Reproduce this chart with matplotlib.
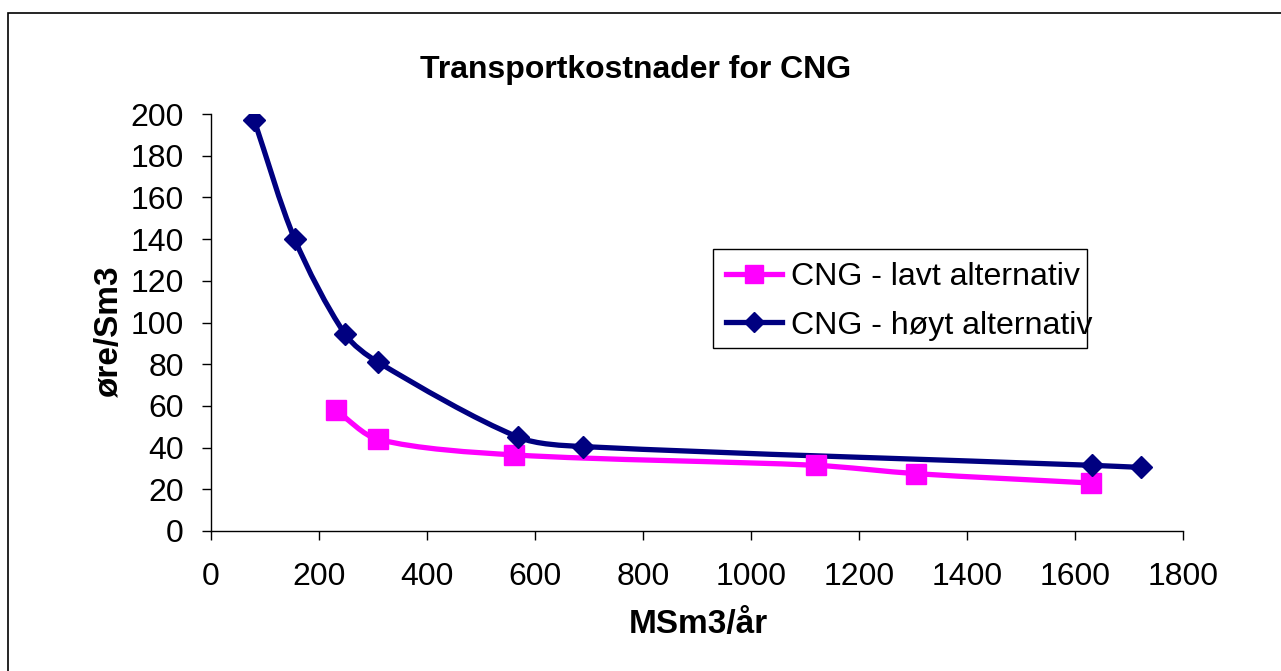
import numpy as np
import matplotlib
matplotlib.use("Agg")
import matplotlib.pyplot as plt
from matplotlib.path import Path
from matplotlib.patches import PathPatch, Rectangle
from matplotlib.lines import Line2D

plt.rcParams['font.family'] = ['Liberation Sans', 'DejaVu Sans']

# data
lavt_x = [231, 309, 561, 1120, 1306, 1630]
lavt_y = [58, 44, 36.5, 31.5, 27.5, 23]
hoyt_x = [80, 155, 248, 309, 569, 689, 1631, 1722]
hoyt_y = [197, 140, 94.5, 81, 45, 40.5, 31.5, 30.5]
x_ticks = list(range(0, 1801, 200))
y_ticks = list(range(0, 201, 20))

PINK = '#FF00FF'
NAVY = '#000080'
W, H = 1281, 671
# axes box in pixels
AX_L, AX_R, AX_B, AX_T = 211, 1183, 531, 114
LW = 3.8


def smooth_path(xs, ys, xmax=1800.0, ymax=200.0):
    # smoothed line like Excel: cubic bezier through each point,
    # tangents worked out in screen-like units so they don't overshoot
    sx = (AX_R - AX_L) / xmax
    sy = (AX_B - AX_T) / ymax
    pts = np.column_stack([np.asarray(xs) * sx, np.asarray(ys) * sy]).astype(float)
    n = len(pts)
    tang = []
    for i in range(n):
        a = pts[max(i - 1, 0)]
        b = pts[min(i + 1, n - 1)]
        d = b - a
        tang.append(d / np.hypot(*d))
    verts = [pts[0]]
    codes = [Path.MOVETO]
    for i in range(n - 1):
        seg = np.hypot(*(pts[i + 1] - pts[i]))
        c1 = pts[i] + tang[i] * seg * 0.3
        c2 = pts[i + 1] - tang[i + 1] * seg * 0.3
        verts += [c1, c2, pts[i + 1]]
        codes += [Path.CURVE4] * 3
    verts = np.array(verts) / [sx, sy]
    return Path(verts, codes)


fig = plt.figure(figsize=(W / 100, H / 100), dpi=100)
ax = fig.add_axes([AX_L / W, 1 - AX_B / H, (AX_R - AX_L) / W, (AX_B - AX_T) / H])

# outer frame
fig.patches.append(Rectangle((8 / W, -0.1), 1.2, 1 - 13 / H + 0.1,
                             transform=fig.transFigure, fill=False,
                             edgecolor='black', linewidth=1.2))

for xs, ys, col, mk, ms in [(lavt_x, lavt_y, PINK, 's', 14),
                            (hoyt_x, hoyt_y, NAVY, 'D', 11)]:
    ax.add_patch(PathPatch(smooth_path(xs, ys), fill=False, edgecolor=col,
                           linewidth=LW, capstyle='butt', joinstyle='round',
                           zorder=2))
    ax.plot(xs, ys, linestyle='none', marker=mk, markersize=ms, color=col,
            zorder=3)

ax.set_xlim(0, 1800)
ax.set_ylim(0, 200)
ax.set_xticks(x_ticks)
ax.set_yticks(y_ticks)
ax.tick_params(direction='out', length=6.5, width=1, labelsize=23)
ax.tick_params(axis='x', pad=16)
ax.tick_params(axis='y', pad=13)
for s in ['top', 'right']:
    ax.spines[s].set_visible(False)
for s in ['left', 'bottom']:
    ax.spines[s].set_linewidth(1)

fig.text(636 / W, 1 - 70 / H, 'Transportkostnader for CNG', fontsize=23,
         fontweight='bold', ha='center', va='center')
ax.set_xlabel('MSm3/år', fontsize=24, fontweight='bold', va='center')
ax.xaxis.set_label_coords((698 - AX_L) / (AX_R - AX_L), (AX_B - 625) / (AX_B - AX_T))
ax.set_ylabel('øre/Sm3', fontsize=24, fontweight='bold', va='center')
ax.yaxis.set_label_coords((110 - AX_L) / (AX_R - AX_L), (AX_B - 332) / (AX_B - AX_T))

# legend box drawn by hand so its size matches
fig.patches.append(Rectangle((713 / W, 1 - 348 / H), (1087 - 713) / W, (348 - 249) / H,
                             transform=fig.transFigure, fill=False,
                             edgecolor='black', linewidth=1, zorder=4))
handles = [Line2D([], [], color=PINK, marker='s', markersize=12.5, linewidth=LW),
           Line2D([], [], color=NAVY, marker='D', markersize=10, linewidth=LW)]
leg = ax.legend(handles, ['CNG - lavt alternativ', 'CNG - høyt alternativ'],
                loc='upper left', bbox_to_anchor=(726 / W, 1 - 262 / H),
                bbox_transform=fig.transFigure, fontsize=23.1, frameon=False,
                borderaxespad=0, borderpad=0, handlelength=1.73,
                handletextpad=0.31, labelspacing=0.58)

fig.savefig('out.png', dpi=100)
